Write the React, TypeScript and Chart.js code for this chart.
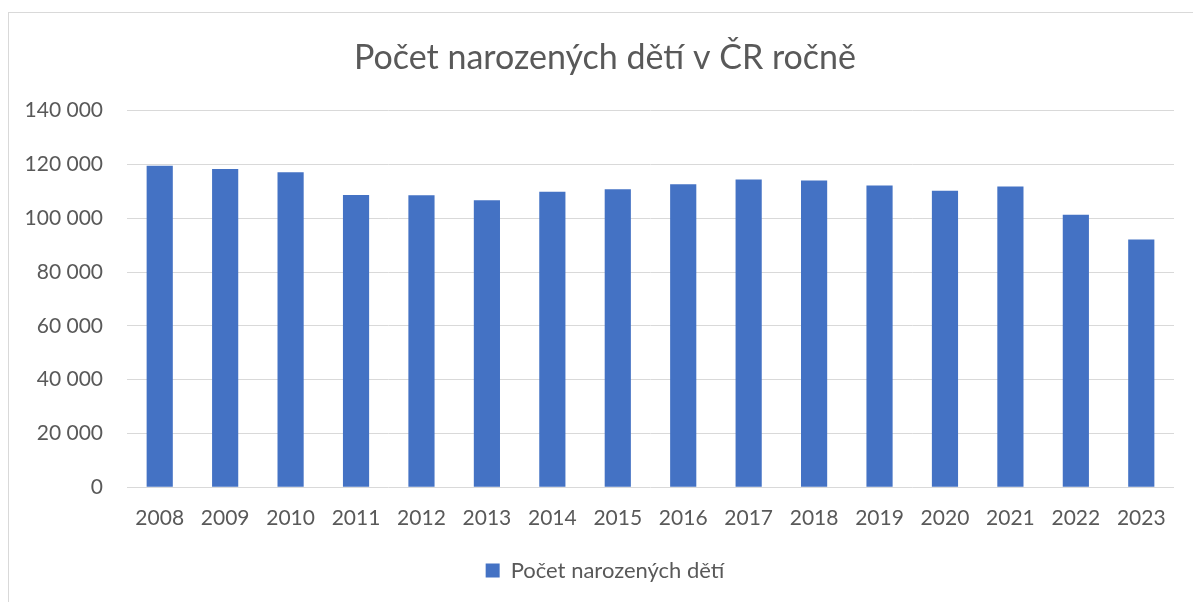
import React, { useEffect, useRef } from "react";
import { Chart, registerables } from "chart.js";

Chart.register(...registerables);

const years = ["2008", "2009", "2010", "2011", "2012", "2013", "2014", "2015", "2016", "2017", "2018", "2019", "2020", "2021", "2022", "2023"];
const births = [119570, 118348, 117153, 108673, 108576, 106751, 109860, 110764, 112663, 114405, 114036, 112231, 110200, 111793, 101299, 92100];
const seriesLabel = "Počet narozených dětí";
const chartTitle = "Počet narozených dětí v ČR ročně";

const FONT = "Lato, 'Open Sans', sans-serif";
const TEXT = "#595959";
const GRID = "#d9d9d9";

function fmt(v: number): string {
  return String(v).replace(/\B(?=(\d{3})+(?!\d))/g, " ");
}

// Shift the centring box of title and legend (Excel centres them on the whole chart frame)
const centerShift = {
  id: "centerShift",
  afterLayout(chart: any) {
    if (chart.titleBlock) chart.titleBlock.left += 27;
    if (chart.legend) chart.legend.left += 27;
  },
};

export default function App() {
  const ref = useRef<HTMLCanvasElement | null>(null);
  useEffect(() => {
    if (!ref.current) return;
    const chart = new Chart(ref.current, {
      type: "bar",
      data: {
        labels: years,
        datasets: [
          {
            label: seriesLabel,
            data: births,
            backgroundColor: "#4472C4",
            borderWidth: 0,
            barPercentage: 0.4,
            categoryPercentage: 1.0,
          },
        ],
      },
      plugins: [centerShift],
      options: {
        animation: false,
        responsive: true,
        maintainAspectRatio: false,
        layout: { padding: { left: 0, right: 19, top: 0, bottom: 10.5 } },
        plugins: {
          title: {
            display: true,
            text: chartTitle,
            color: TEXT,
            font: { family: FONT, size: 34, weight: "normal" },
            padding: { top: 24.6, bottom: 32.3 },
          },
          legend: {
            position: "bottom",
            labels: {
              color: TEXT,
              font: { family: FONT, size: 22 },
              boxWidth: 14,
              boxHeight: 14,
              padding: 10,
            },
          },
          tooltip: { enabled: false },
        },
        scales: {
          x: {
            grid: { display: false, drawTicks: false },
            border: { display: false },
            ticks: {
              color: TEXT,
              font: { family: FONT, size: 21 },
              padding: 18,
              maxRotation: 0,
            },
            afterFit: (scale: any) => {
              scale.height += 1;
            },
          },
          y: {
            min: 0,
            max: 140000,
            grid: { color: GRID, lineWidth: 1, drawTicks: false },
            border: { display: false },
            ticks: {
              stepSize: 20000,
              color: TEXT,
              font: { family: FONT, size: 21 },
              padding: 24,
              callback: (v: any) => fmt(Number(v)),
            },
            afterFit: (scale: any) => {
              scale.width = 118;
            },
          },
        },
      },
    });
    return () => chart.destroy();
  }, []);

  return (
    <div
      style={{
        position: "fixed",
        left: 8,
        top: 12,
        width: 1185,
        height: 590,
        boxSizing: "border-box",
        borderTop: "1px solid #d9d9d9",
        borderLeft: "1px solid #d9d9d9",
        background: "#fff",
      }}
    >
      <div style={{ position: "relative", width: "100%", height: "100%" }}>
        <canvas ref={ref} />
      </div>
    </div>
  );
}
